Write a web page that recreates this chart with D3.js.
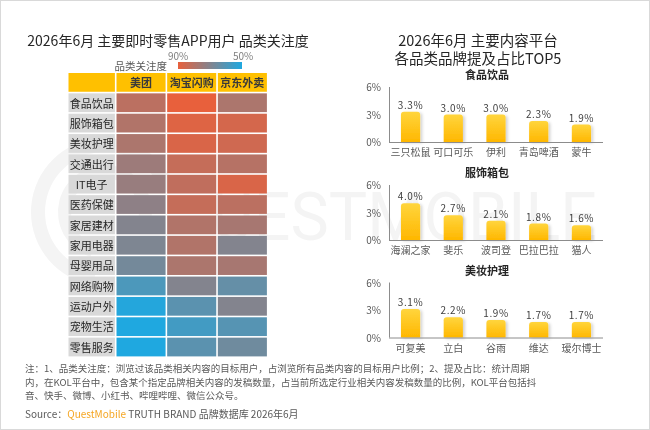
<!DOCTYPE html>
<html>
<head>
<meta charset="utf-8">
<script src="https://cdn.jsdelivr.net/npm/d3@7"></script>
<style>
  body { margin: 0; background: #fff; }
  svg { display: block; font-family: "Noto Sans CJK SC", "Noto Sans", sans-serif; }
</style>
</head>
<body>
<svg id="chart" width="650" height="430"></svg>
<script>
// heatmap data
const apps = ["美团", "淘宝闪购", "京东外卖"];
const categories = ["食品饮品", "服饰箱包", "美妆护理", "交通出行", "IT电子", "医药保健",
  "家居建材", "家用电器", "母婴用品", "网络购物", "运动户外", "宠物生活", "零售服务"];
const meituan = [0.81, 0.79, 0.78, 0.75, 0.74, 0.72, 0.70, 0.69, 0.67, 0.59, 0.51, 0.50, 0.50];
const taobao  = [0.90, 0.88, 0.87, 0.83, 0.82, 0.83, 0.79, 0.79, 0.78, 0.70, 0.62, 0.57, 0.62];
const jingdong = [0.78, 0.86, 0.85, 0.80, 0.87, 0.81, 0.77, 0.70, 0.77, 0.64, 0.70, 0.61, 0.66];

// bar charts data
const foodBrands = ["三只松鼠", "可口可乐", "伊利", "青岛啤酒", "蒙牛"];
const foodShare = [3.3, 3.0, 3.0, 2.3, 1.9];
const apparelBrands = ["海澜之家", "斐乐", "波司登", "巴拉巴拉", "猫人"];
const apparelShare = [4.0, 2.7, 2.1, 1.8, 1.6];
const beautyBrands = ["可复美", "立白", "谷雨", "维达", "瑷尔博士"];
const beautyShare = [3.1, 2.2, 1.9, 1.7, 1.7];
const yTicks = [0, 3, 6];

const svg = d3.select("#chart");
const defs = svg.append("defs");

// border
svg.append("rect").attr("x", 0.5).attr("y", 0.5).attr("width", 649).attr("height", 429)
  .attr("fill", "#fff").attr("stroke", "#d9d9d9");

// watermark (logo ring is the "Q")
const wm = svg.append("g").attr("opacity", 0.045);
wm.append("path")
  .attr("transform", "translate(105,212)")
  .attr("d", d3.arc().innerRadius(60).outerRadius(74).startAngle(-Math.PI * 0.95).endAngle(Math.PI * 0.4)())
  .attr("fill", "#000");
wm.append("path")
  .attr("transform", "translate(105,212)")
  .attr("d", d3.arc().innerRadius(34).outerRadius(47).startAngle(-Math.PI * 0.9).endAngle(Math.PI * 0.55)())
  .attr("fill", "#000");
wm.append("text").attr("x", 212).attr("y", 240).attr("font-size", 66)
  .attr("font-family", "Roboto, sans-serif").attr("font-weight", 400)
  .attr("textLength", 385).attr("lengthAdjust", "spacingAndGlyphs")
  .attr("fill", "#000").text("UESTMOBILE");

// ---------- left: heatmap ----------
svg.append("text").attr("x", 168).attr("y", 46).attr("text-anchor", "middle")
  .attr("font-size", 14).attr("fill", "#262626")
  .text("2026年6月 主要即时零售APP用户 品类关注度");

const color = d3.scaleLinear().domain([0.5, 0.9]).range(["#1fa8e0", "#e8603c"]);

const grad = defs.append("linearGradient").attr("id", "legendGrad");
grad.append("stop").attr("offset", "0%").attr("stop-color", color(0.9));
grad.append("stop").attr("offset", "100%").attr("stop-color", color(0.5));

svg.append("text").attr("x", 167).attr("y", 70).attr("text-anchor", "end")
  .attr("font-size", 10.5).attr("fill", "#595959").text("品类关注度");
svg.append("rect").attr("x", 178).attr("y", 62).attr("width", 64).attr("height", 7)
  .attr("fill", "url(#legendGrad)");
svg.append("text").attr("x", 168).attr("y", 60).attr("font-size", 10)
  .attr("fill", "#7f7f7f").text("90%");
svg.append("text").attr("x", 233).attr("y", 60).attr("font-size", 10)
  .attr("fill", "#7f7f7f").text("50%");

const xCol = d3.scaleBand().domain(apps).range([116.5, 268.5]);
const yRow = d3.scaleBand().domain(["header"].concat(categories)).range([73, 358]);
const gap = 1.6;

const heat = svg.append("g");
// header row
heat.append("rect").attr("x", 68.5).attr("y", yRow("header"))
  .attr("width", 116.5 - 68.5 - gap).attr("height", yRow.bandwidth() - gap).attr("fill", "#ffc000");
heat.selectAll(".hd").data(apps).join("rect")
  .attr("x", d => xCol(d)).attr("y", yRow("header"))
  .attr("width", xCol.bandwidth() - gap).attr("height", yRow.bandwidth() - gap)
  .attr("fill", "#ffc000");
heat.selectAll(".hdt").data(apps).join("text")
  .attr("x", d => xCol(d) + (xCol.bandwidth() - gap) / 2)
  .attr("y", yRow("header") + yRow.bandwidth() / 2 + 4)
  .attr("text-anchor", "middle").attr("font-size", 11).attr("font-weight", "bold")
  .attr("fill", "#3a3a3a").text(d => d);

// row labels
heat.selectAll(".lb").data(categories).join("rect")
  .attr("x", 68.5).attr("y", d => yRow(d))
  .attr("width", 116.5 - 68.5 - gap).attr("height", yRow.bandwidth() - gap)
  .attr("fill", "#d9d9d9");
heat.selectAll(".lbt").data(categories).join("text")
  .attr("x", 68.5 + (116.5 - 68.5 - gap) / 2)
  .attr("y", d => yRow(d) + yRow.bandwidth() / 2 + 4)
  .attr("text-anchor", "middle").attr("font-size", 11)
  .attr("fill", "#262626").text(d => d);

// cells
const cells = [];
categories.forEach((c, i) => {
  cells.push({ app: apps[0], cat: c, v: meituan[i] });
  cells.push({ app: apps[1], cat: c, v: taobao[i] });
  cells.push({ app: apps[2], cat: c, v: jingdong[i] });
});
heat.selectAll(".cell").data(cells).join("rect")
  .attr("x", d => xCol(d.app)).attr("y", d => yRow(d.cat))
  .attr("width", xCol.bandwidth() - gap).attr("height", yRow.bandwidth() - gap)
  .attr("fill", d => color(d.v));

// ---------- right: bar charts ----------
svg.append("text").attr("x", 478).attr("y", 46).attr("text-anchor", "middle")
  .attr("font-size", 14.5).attr("fill", "#262626").text("2026年6月 主要内容平台");
svg.append("text").attr("x", 478).attr("y", 64).attr("text-anchor", "middle")
  .attr("font-size", 14.5).attr("fill", "#262626").text("各品类品牌提及占比TOP5");

const barGrad = defs.append("linearGradient").attr("id", "barGrad")
  .attr("x1", 0).attr("y1", 0).attr("x2", 0).attr("y2", 1);
barGrad.append("stop").attr("offset", "0%").attr("stop-color", "#ffd53d");
barGrad.append("stop").attr("offset", "100%").attr("stop-color", "#ffb700");

const shadow = defs.append("filter").attr("id", "barShadow")
  .attr("x", "-30%").attr("y", "-20%").attr("width", "160%").attr("height", "140%");
shadow.append("feDropShadow").attr("dx", 2).attr("dy", 1).attr("stdDeviation", 1.5)
  .attr("flood-color", "#000").attr("flood-opacity", 0.18);

function topRounded(x, y, w, h, r) {
  r = Math.min(r, h);
  return `M${x},${y + h}V${y + r}Q${x},${y} ${x + r},${y}H${x + w - r}Q${x + w},${y} ${x + w},${y + r}V${y + h}Z`;
}

function drawBars(title, brands, shares, top) {
  const bottom = top + 55;
  const g = svg.append("g");
  const x = d3.scaleBand().domain(brands).range([389, 603]).paddingInner(0.55).paddingOuter(0.28);
  const y = d3.scaleLinear().domain([0, 6]).range([bottom, top]);

  g.append("text").attr("x", 487).attr("y", top - 8).attr("text-anchor", "middle")
    .attr("font-size", 11).attr("font-weight", "bold").attr("fill", "#262626").text(title);

  g.selectAll(".yt").data(yTicks).join("text")
    .attr("x", 381).attr("y", d => y(d) + 4).attr("text-anchor", "end")
    .attr("font-size", 10).attr("fill", "#595959").text(d => d + "%");

  g.selectAll(".bar").data(brands).join("path")
    .attr("d", (d, i) => topRounded(x(d), y(shares[i]), x.bandwidth(), bottom - y(shares[i]), 3))
    .attr("fill", "url(#barGrad)").attr("filter", "url(#barShadow)");

  g.append("line").attr("x1", 389.5).attr("x2", 389.5).attr("y1", top).attr("y2", bottom)
    .attr("stroke", "#8c8c8c").attr("stroke-width", 1);
  g.append("line").attr("x1", 389).attr("x2", 603).attr("y1", bottom + 0.5).attr("y2", bottom + 0.5)
    .attr("stroke", "#8c8c8c").attr("stroke-width", 1);

  g.selectAll(".vl").data(brands).join("text")
    .attr("x", d => x(d) + x.bandwidth() / 2).attr("y", (d, i) => y(shares[i]) - 3)
    .attr("text-anchor", "middle").attr("font-size", 10).attr("letter-spacing", 0.6)
    .attr("fill", "#404040").text((d, i) => shares[i].toFixed(1) + "%");

  g.selectAll(".xl").data(brands).join("text")
    .attr("x", d => x(d) + x.bandwidth() / 2).attr("y", bottom + 14)
    .attr("text-anchor", "middle").attr("font-size", 10)
    .attr("fill", "#595959").text(d => d);
}

drawBars("食品饮品", foodBrands, foodShare, 87);
drawBars("服饰箱包", apparelBrands, apparelShare, 185);
drawBars("美妆护理", beautyBrands, beautyShare, 282.5);

// ---------- footer ----------
const notes = [
  "注：1、品类关注度：浏览过该品类相关内容的目标用户，占浏览所有品类内容的目标用户比例；2、提及占比：统计周期",
  "内，在KOL平台中，包含某个指定品牌相关内容的发稿数量，占当前所选定行业相关内容发稿数量的比例，KOL平台包括抖",
  "音、快手、微博、小红书、哔哩哔哩、微信公众号。"
];
svg.selectAll(".note").data(notes).join("text")
  .attr("x", 25).attr("y", (d, i) => 372 + i * 13.5)
  .attr("font-size", 9.5).attr("fill", "#595959").text(d => d);

const src = svg.append("text").attr("x", 25).attr("y", 418).attr("font-size", 10).attr("fill", "#595959");
src.append("tspan").text("Source：");
src.append("tspan").attr("fill", "#f5a623").text("QuestMobile");
src.append("tspan").text(" TRUTH BRAND 品牌数据库 2026年6月");
</script>
</body>
</html>
